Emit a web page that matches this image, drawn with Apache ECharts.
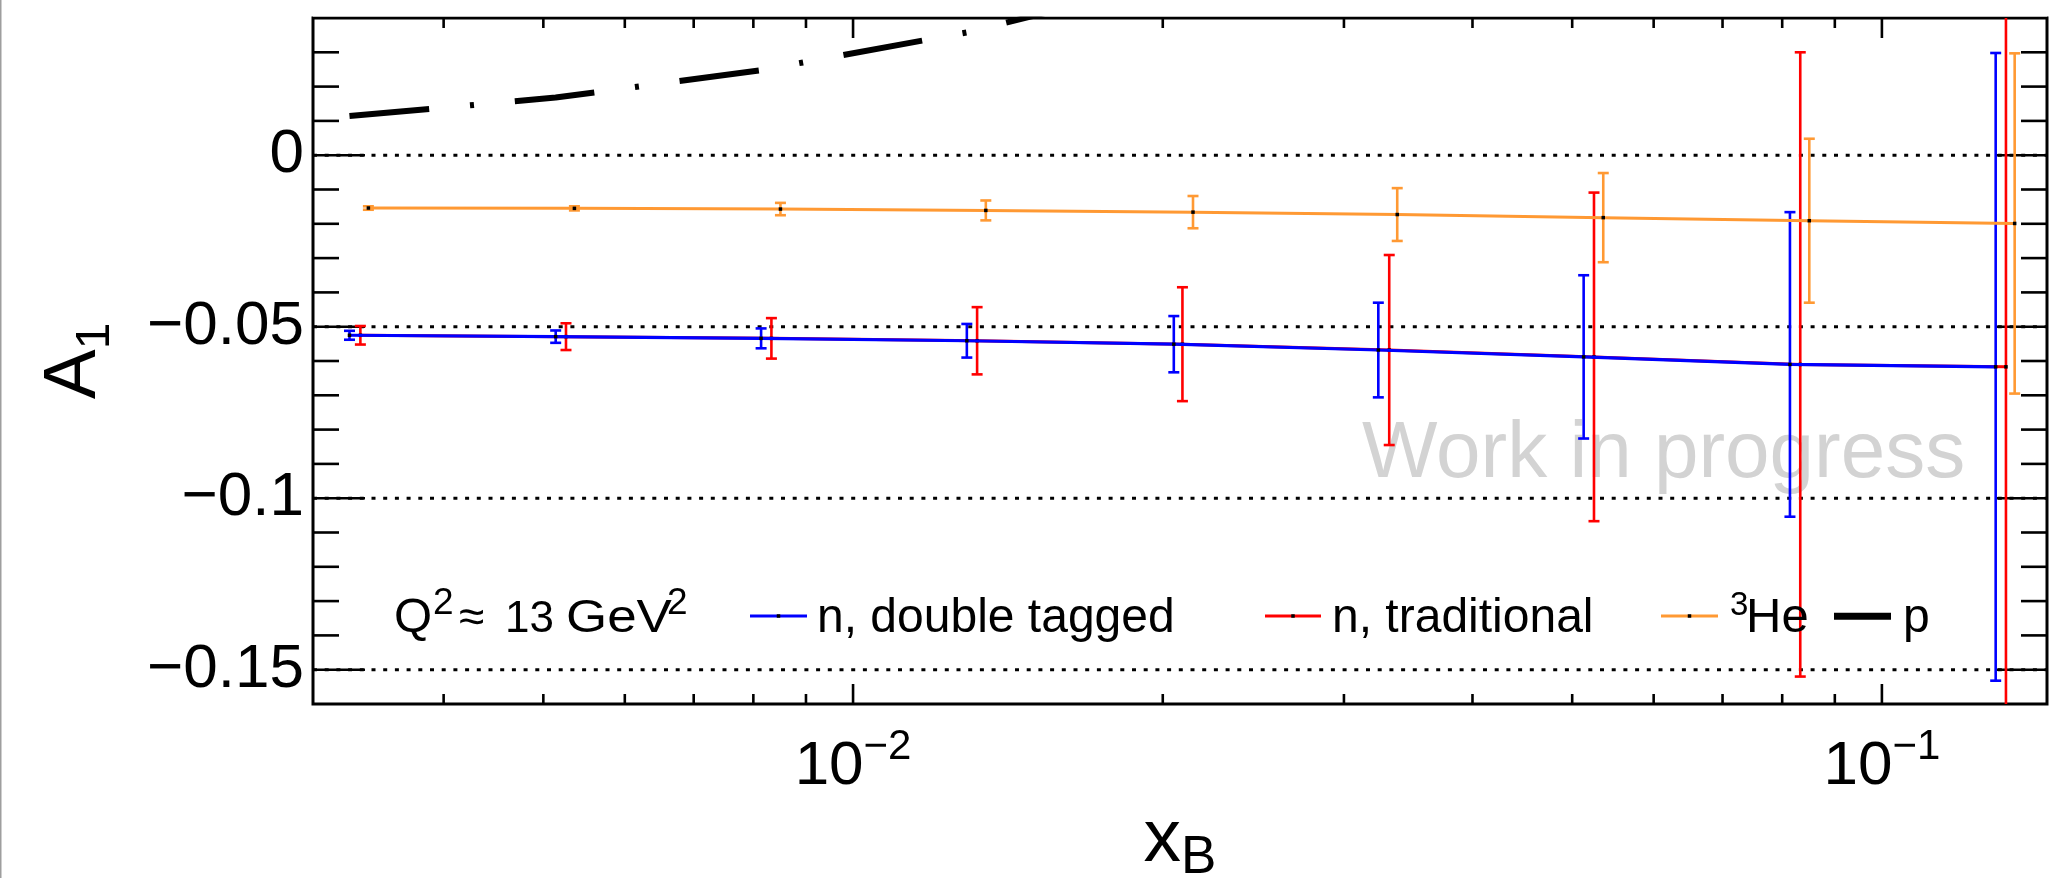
<!DOCTYPE html>
<html>
<head>
<meta charset="utf-8">
<title>A1 vs xB</title>
<script src="https://cdn.jsdelivr.net/npm/echarts@6/dist/echarts.min.js"></script>
<style>
  html, body { margin: 0; padding: 0; background: #fff; }
  #chart { width: 2070px; height: 878px; }
</style>
</head>
<body>
<div id="chart"></div>
<script>
// ---- data: A1 asymmetry vs Bjorken x ----
const xDT = [0.00324, 0.00514, 0.00814, 0.0129, 0.0205, 0.0324, 0.0513, 0.0814, 0.129];
const yDT = [-0.0525, -0.0529, -0.0534, -0.0541, -0.0551, -0.0568, -0.0588, -0.0610, -0.0617];
const eDT = [0.0013, 0.0018, 0.0029, 0.0049, 0.0082, 0.0138, 0.0238, 0.0444, 0.0915];

const xTR = [0.00332, 0.00526, 0.00833, 0.0132, 0.0209, 0.0332, 0.0525, 0.0833, 0.132];
const yTR = [-0.0525, -0.0529, -0.0534, -0.0541, -0.0551, -0.0568, -0.0588, -0.0610, -0.0617];
const eTR = [0.0027, 0.0039, 0.0059, 0.0098, 0.0166, 0.0277, 0.0479, 0.0910, 0.2000];

const xHE = [0.00338, 0.00536, 0.00850, 0.01346, 0.0214, 0.0338, 0.0536, 0.0850, 0.1346];
const yHE = [-0.0154, -0.0155, -0.0157, -0.0161, -0.0166, -0.0173, -0.0182, -0.0191, -0.0199];
const eHE = [0.0005, 0.0006, 0.0018, 0.0029, 0.0047, 0.0077, 0.0130, 0.0239, 0.0496];

const xP = [0.00324, 0.00514, 0.00814, 0.0129, 0.0205];
const yP = [0.0114, 0.0168, 0.0248, 0.0358, 0.0508];

// axis ranges and tick values
const X_RANGE = [0.002986, 0.1447];
const Y_RANGE = [-0.16, 0.04];
const xMajorTicks = [0.01, 0.1];
const xMinorTicks = [0.004, 0.005, 0.006, 0.007, 0.008, 0.009, 0.02, 0.03, 0.04, 0.05, 0.06, 0.07, 0.08, 0.09];
const yMajorTicks = [-0.15, -0.1, -0.05, 0];
const yMinorTicks = [-0.14, -0.13, -0.12, -0.11, -0.09, -0.08, -0.07, -0.06, -0.04, -0.03, -0.02, -0.01, 0.01, 0.02, 0.03];
const gridLineValues = [-0.15, -0.1, -0.05, 0];

const NAME_DT = 'n, double tagged';
const NAME_TR = 'n, traditional';
const NAME_HE = 'He';
const NAME_P = 'p';

const C_DT = '#0000ff';
const C_TR = '#ff0000';
const C_HE = '#ff9933';
const FONT = "'Liberation Sans', Arial, Helvetica, sans-serif";

const GRID = { left: 313, top: 18, width: 1734, height: 686 };

const zip = (xs, ys) => xs.map((x, i) => [x, ys[i]]);
const zip3 = (xs, ys, es) => xs.map((x, i) => [x, ys[i], es[i]]);

// error bar with caps and a small black point marker
function errorBars(color) {
  return function (params, api) {
    const x = api.value(0), y = api.value(1), e = api.value(2);
    const hi = api.coord([x, y + e]);
    const lo = api.coord([x, y - e]);
    const c = api.coord([x, y]);
    const cap = 5.5;
    const st = { stroke: color, lineWidth: 2.6 };
    return {
      type: 'group',
      children: [
        { type: 'line', shape: { x1: hi[0], y1: hi[1], x2: lo[0], y2: lo[1] }, style: st },
        { type: 'line', shape: { x1: hi[0] - cap, y1: hi[1], x2: hi[0] + cap, y2: hi[1] }, style: st },
        { type: 'line', shape: { x1: lo[0] - cap, y1: lo[1], x2: lo[0] + cap, y2: lo[1] }, style: st },
        { type: 'rect', shape: { x: c[0] - 1.75, y: c[1] - 1.75, width: 3.5, height: 3.5 }, style: { fill: '#000' } }
      ]
    };
  };
}

// frame ticks (inside, on all four sides) and dotted reference lines
const frameItems = []
  .concat(xMinorTicks.map(v => [v, -0.06, 0]))
  .concat(xMajorTicks.map(v => [v, -0.06, 1]))
  .concat(yMinorTicks.map(v => [0.01, v, 2]))
  .concat(yMajorTicks.map(v => [0.01, v, 3]))
  .concat(gridLineValues.map(v => [0.01, v, 4]));

function renderFrame(params, api) {
  const kind = api.value(2);
  const cs = params.coordSys;
  const p = api.coord([api.value(0), api.value(1)]);
  const left = cs.x, right = cs.x + cs.width, top = cs.y, bottom = cs.y + cs.height;
  const st = { stroke: '#000', lineWidth: 2.6 };
  if (kind === 0 || kind === 1) {
    const len = kind === 1 ? 20 : 10;
    return {
      type: 'group',
      children: [
        { type: 'line', shape: { x1: p[0], y1: bottom, x2: p[0], y2: bottom - len }, style: st },
        { type: 'line', shape: { x1: p[0], y1: top, x2: p[0], y2: top + len }, style: st }
      ]
    };
  }
  if (kind === 2 || kind === 3) {
    const len = kind === 3 ? 52 : 26;
    return {
      type: 'group',
      children: [
        { type: 'line', shape: { x1: left, y1: p[1], x2: left + len, y2: p[1] }, style: st },
        { type: 'line', shape: { x1: right - len, y1: p[1], x2: right, y2: p[1] }, style: st }
      ]
    };
  }
  return {
    type: 'line',
    shape: { x1: left, y1: p[1], x2: right, y2: p[1] },
    style: { stroke: '#000', lineWidth: 3, lineDash: [4, 7.7] }
  };
}

// text placed by its alphabetic baseline
function txt(str, x, baseline, fs, extra) {
  return Object.assign({
    type: 'text', x: x, y: baseline - 0.34 * fs, silent: true, z: 10,
    style: {
      text: str, fontSize: fs, fontFamily: FONT, fill: '#000',
      align: 'left', verticalAlign: 'middle', textAlign: 'left', textVerticalAlign: 'middle'
    }
  }, extra || {});
}
function sample(x1, x2, y, color, width, dot) {
  const els = [{ type: 'line', silent: true, z: 10, shape: { x1: x1, y1: y, x2: x2, y2: y }, style: { stroke: color, lineWidth: width } }];
  if (dot) {
    const m = (x1 + x2) / 2;
    els.push({ type: 'rect', silent: true, z: 11, shape: { x: m - 1.75, y: y - 1.75, width: 3.5, height: 3.5 }, style: { fill: '#000' } });
  }
  return els;
}

const graphicEls = [
  { type: 'rect', silent: true, z: 0, shape: { x: 0, y: 0, width: 1.5, height: 878 }, style: { fill: '#9e9e9e' } },
  // keeps the thick model curve from spilling past the top of the frame
  { type: 'rect', silent: true, z: 50, shape: { x: GRID.left, y: 0, width: GRID.width, height: GRID.top - 1.5 }, style: { fill: '#fff' } },
  txt('Work in progress', 1362, 482, 80, { z: 1, style: { text: 'Work in progress', fontSize: 80, fontFamily: FONT, fill: '#d3d3d3', align: 'left', verticalAlign: 'middle', textAlign: 'left', textVerticalAlign: 'middle' } }),
  txt('Q', 394, 635, 49),
  txt('2', 433, 616.7, 37),
  txt('\u2248', 459, 635, 46),
  txt('13', 505, 635, 44),
  txt('GeV', 566, 635, 46, { scaleX: 1.15 }),
  txt('2', 667, 616.7, 37),
  ...sample(750, 807, 616, C_DT, 3, true),
  txt(NAME_DT, 817, 635, 48),
  ...sample(1265, 1321, 616, C_TR, 3, true),
  txt(NAME_TR, 1332, 635, 48),
  ...sample(1661, 1718, 616, C_HE, 3, true),
  txt('3', 1730, 616.7, 33),
  txt(NAME_HE, 1746, 635, 49),
  ...sample(1834, 1891, 616.3, '#000', 7, false),
  txt(NAME_P, 1903, 635, 48)
];

const chart = echarts.init(document.getElementById('chart'), null, { renderer: 'canvas' });
chart.setOption({
  animation: false,
  backgroundColor: '#fff',
  grid: {
    left: GRID.left, top: GRID.top, width: GRID.width, height: GRID.height,
    show: true, borderColor: '#000', borderWidth: 3, backgroundColor: 'transparent',
    containLabel: false, outerBoundsMode: 'none'
  },
  xAxis: {
    type: 'log', logBase: 10, min: X_RANGE[0], max: X_RANGE[1],
    axisLine: { show: false }, axisTick: { show: false },
    splitLine: { show: false }, minorTick: { show: false }, minorSplitLine: { show: false },
    axisLabel: {
      margin: 23, color: '#000', fontFamily: FONT,
      showMinLabel: true, showMaxLabel: true,
      formatter: function (v) {
        const lg = Math.log10(v);
        const e = Math.round(lg);
        if (Math.abs(lg - e) > 1e-6) return '';
        return '{b|10}{s|\u2212' + Math.abs(e) + '}';
      },
      rich: {
        b: { fontSize: 62, lineHeight: 80, fontFamily: FONT, color: '#000' },
        s: { fontSize: 42, verticalAlign: 'top', height: 40, fontFamily: FONT, color: '#000' }
      }
    },
    name: '{m|x}{s|B}', nameLocation: 'middle', nameGap: 86,
    nameTextStyle: {
      rich: {
        m: { fontSize: 75, lineHeight: 80, fontFamily: FONT, color: '#000' },
        s: { fontSize: 53, verticalAlign: 'bottom', height: 45, fontFamily: FONT, color: '#000' }
      }
    }
  },
  yAxis: {
    type: 'value', min: Y_RANGE[0], max: Y_RANGE[1], interval: 0.01,
    axisLine: { show: false }, axisTick: { show: false }, splitLine: { show: false },
    axisLabel: {
      margin: 9, fontSize: 62, fontFamily: FONT, color: '#000', padding: [4, 0, 0, 0],
      formatter: function (v) {
        const k = Math.round(v * 100);
        if (k % 5 !== 0) return '';
        if (k === 0) return '0';
        return '\u2212' + String(Math.abs(k) / 100);
      }
    },
    name: '{a|A}{s|1}', nameLocation: 'middle', nameRotate: 90, nameGap: 194,
    nameTextStyle: {
      rich: {
        a: { fontSize: 75, lineHeight: 90, fontFamily: FONT, color: '#000' },
        s: { fontSize: 48, verticalAlign: 'bottom', height: 46, fontFamily: FONT, color: '#000' }
      }
    }
  },
  graphic: graphicEls,
  series: [
    { type: 'custom', name: 'frame', silent: true, z: 1, clip: false, renderItem: renderFrame, data: frameItems },
    { type: 'line', name: NAME_TR, data: zip(xTR, yTR), symbol: 'none', silent: true, z: 3,
      lineStyle: { color: C_TR, width: 3 }, clip: true },
    { type: 'custom', name: NAME_TR + ' errors', silent: true, z: 4, clip: true, renderItem: errorBars(C_TR), data: zip3(xTR, yTR, eTR) },
    { type: 'line', name: NAME_DT, data: zip(xDT, yDT), symbol: 'none', silent: true, z: 5,
      lineStyle: { color: C_DT, width: 3.2 }, clip: true },
    { type: 'custom', name: NAME_DT + ' errors', silent: true, z: 6, clip: true, renderItem: errorBars(C_DT), data: zip3(xDT, yDT, eDT) },
    { type: 'line', name: NAME_HE, data: zip(xHE, yHE), symbol: 'none', silent: true, z: 7,
      lineStyle: { color: C_HE, width: 3 }, clip: true },
    { type: 'custom', name: NAME_HE + ' errors', silent: true, z: 8, clip: true, renderItem: errorBars(C_HE), data: zip3(xHE, yHE, eHE) },
    { type: 'line', name: NAME_P, data: zip(xP, yP), symbol: 'none', silent: true, z: 9, clip: true,
      lineStyle: { color: '#000', width: 6, type: [80, 41, 4, 41], cap: 'butt' } }
  ]
});
</script>
</body>
</html>
